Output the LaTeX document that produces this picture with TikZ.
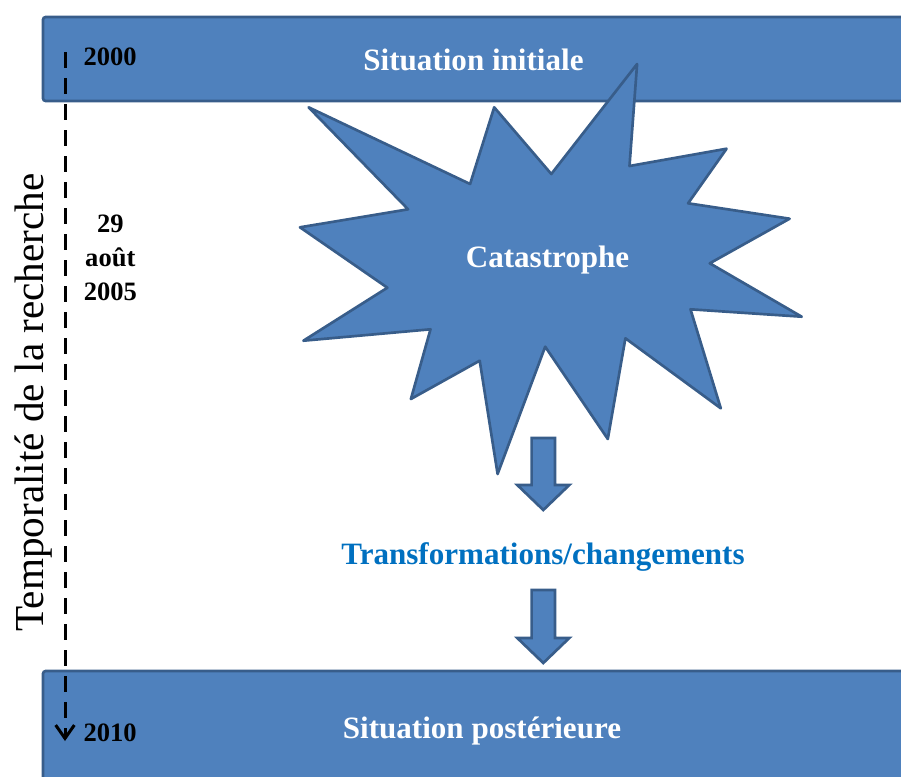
\documentclass[tikz,border=0pt]{standalone}
\usepackage{fontspec}
\setmainfont{Liberation Serif}
\usetikzlibrary{arrows.meta,calc}
\definecolor{barblue}{HTML}{4F81BD}
\definecolor{bordblue}{HTML}{385D8A}
\definecolor{textblue}{HTML}{0070C0}

\begin{document}
\begin{tikzpicture}[x=0.75pt,y=-0.75pt]
  \tikzstyle{band}=[fill=barblue,draw=bordblue,line width=2pt,rounded corners=2pt]
  \tikzstyle{burst}=[fill=barblue,draw=bordblue,line width=2pt,line join=round]
  \tikzstyle{block}=[fill=barblue,draw=bordblue,line width=2pt]
  \tikzstyle{title}=[text=white,font=\bfseries\fontsize{23.3}{28}\selectfont,anchor=base,inner sep=0pt]
  \tikzstyle{year}=[font=\bfseries\fontsize{19.9}{25.6}\selectfont,inner sep=0pt]
  \tikzstyle{timeline}=[line width=2.25pt,dash pattern=on 12pt off 7.5pt,-{Straight Barb[length=10pt,width=14pt]}]

  \useasboundingbox (0,0) rectangle (901,776);

  \draw[band] (43,17) rectangle (915,101);
  \draw[band] (43,671) rectangle (915,800);

  % the burst
  \draw[burst] (308.6,107.3) -- (470.1,184.0) -- (494.2,107.3) -- (551.3,174.0)
    -- (637.1,64.0) -- (629.5,166.0) -- (726.6,148.7) -- (688.1,203.3)
    -- (789.6,218.7) -- (709.8,263.3) -- (801.7,316.7) -- (690.5,309.3)
    -- (720.8,408.3) -- (625.4,338.3) -- (607.8,439.0) -- (545.2,346.7)
    -- (497.6,474.0) -- (479.7,360.7) -- (410.9,399.0) -- (430.5,329.3)
    -- (303.4,340.7) -- (387.4,287.7) -- (300.0,227.3) -- (408.1,209.3) -- cycle;

  \coordinate (ar1) at (543.3,438);
  \coordinate (ar2) at (543.3,590);
  \draw[block] (ar1) ++(-11.7,0) -- ++(23.4,0) -- ++(0,47) -- ++(14.3,0)
    -- ++(-26,25) -- ++(-26,-25) -- ++(14.3,0) -- cycle;
  \draw[block] (ar2) ++(-11.7,0) -- ++(23.4,0) -- ++(0,48) -- ++(14.3,0)
    -- ++(-26,25) -- ++(-26,-25) -- ++(14.3,0) -- cycle;

  \node[title] (initiale) at (473.5,70) {Situation initiale};
  \node[title] (cata) at (547.6,267.3) {Catastrophe};
  \node[title,text=textblue] (transf) at (543,564) {Transformations/changements};
  \node[title] (posterieure) at (482,738) {Situation postérieure};

  \node[year,anchor=base west] (y2000) at (83.3,65.7) {2000};
  \node[year,align=center] (y2005) at (110.3,258) {29\\août\\2005};
  \node[year,anchor=base west] (y2010) at (83.3,741.7) {2010};

  \coordinate (t0) at (65,52);
  \coordinate (t1) at (65,741);
  \draw[timeline] (t0) -- (t1);

  \node[rotate=90,anchor=base,inner sep=0pt,
        font=\fontsize{30.9}{36}\selectfont] (axe) at (43.3,402.4) {Temporalité de la recherche};
\end{tikzpicture}
\end{document}
